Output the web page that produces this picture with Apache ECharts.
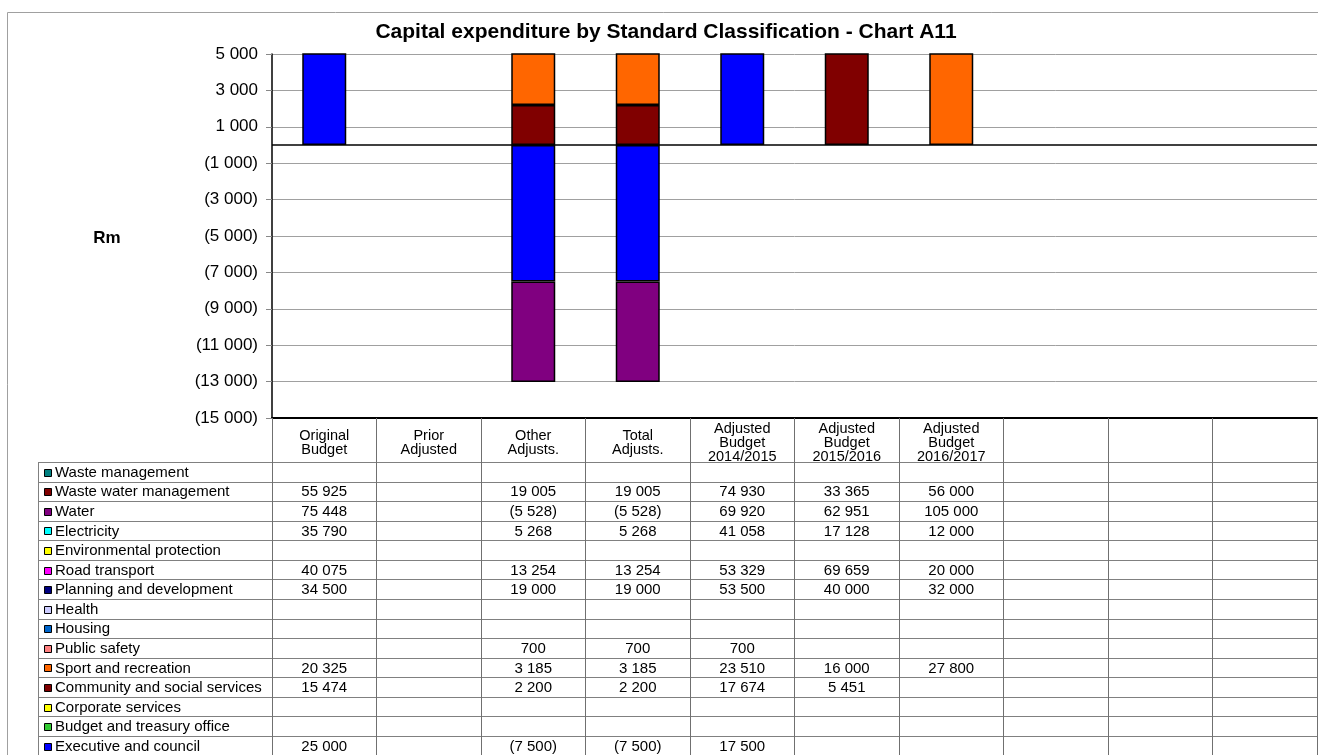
<!DOCTYPE html>
<html>
<head>
<meta charset="utf-8">
<title>Chart A11</title>
<script src="https://cdn.jsdelivr.net/npm/echarts@6/dist/echarts.min.js"></script>
<style>
  html, body { margin: 0; padding: 0; background: #fff; }
  #main { width: 1318px; height: 755px; }
</style>
</head>
<body>
<div id="main"></div>
<script>
// columns of the chart / data table (last three are empty)
var categories = ['Original\nBudget', 'Prior\nAdjusted', 'Other\nAdjusts.', 'Total\nAdjusts.',
  'Adjusted\nBudget\n2014/2015', 'Adjusted\nBudget\n2015/2016', 'Adjusted\nBudget\n2016/2017', '', '', ''];

// one array per row of the data table, R thousand (null = blank cell)
var wasteManagement   = [null, null, null, null, null, null, null];
var wasteWater        = [55925, null, 19005, 19005, 74930, 33365, 56000];
var water             = [75448, null, -5528, -5528, 69920, 62951, 105000];
var electricity       = [35790, null, 5268, 5268, 41058, 17128, 12000];
var environmental     = [null, null, null, null, null, null, null];
var roadTransport     = [40075, null, 13254, 13254, 53329, 69659, 20000];
var planning          = [34500, null, 19000, 19000, 53500, 40000, 32000];
var health            = [null, null, null, null, null, null, null];
var housing           = [null, null, null, null, null, null, null];
var publicSafety      = [null, null, 700, 700, 700, null, null];
var sport             = [20325, null, 3185, 3185, 23510, 16000, 27800];
var community         = [15474, null, 2200, 2200, 17674, 5451, null];
var corporate         = [null, null, null, null, null, null, null];
var budgetTreasury    = [null, null, null, null, null, null, null];
var executive         = [25000, null, -7500, -7500, 17500, null, null];

// table order, top to bottom
var rowNames = ['Waste management', 'Waste water management', 'Water', 'Electricity',
  'Environmental protection', 'Road transport', 'Planning and development', 'Health',
  'Housing', 'Public safety', 'Sport and recreation', 'Community and social services',
  'Corporate services', 'Budget and treasury office', 'Executive and council'];
var rowValues = [wasteManagement, wasteWater, water, electricity, environmental, roadTransport,
  planning, health, housing, publicSafety, sport, community, corporate, budgetTreasury, executive];
var rowColors = ['#008080', '#800000', '#800080', '#00FFFF', '#FFFF00', '#FF00FF', '#000080',
  '#CCCCFF', '#0066CC', '#FF8080', '#FF6600', '#800000', '#FFFF00', '#33CC33', '#0000FF'];

var FONT = "'Liberation Sans', Arial, sans-serif";

// 1 234 / (1 234)
function fmt(v) {
  var s = String(Math.abs(v)).replace(/\B(?=(\d{3})+(?!\d))/g, ' ');
  return v < 0 ? '(' + s + ')' : s;
}

var chart = echarts.init(document.getElementById('main'));

// grid geometry
var gridLeft = 272, gridTop = 54, gridBottomY = 418;
var tableTop = 462, rowH = 19.57, tableLeft = 38;

// stacked columns: the bottom row of the table is the first series of the stack
var series = [];
for (var i = rowNames.length - 1; i >= 0; i--) {
  var s = {
    name: rowNames[i],
    type: 'bar',
    stack: 'total',
    barWidth: 44,
    data: rowValues[i].concat([null, null, null]),
    itemStyle: { color: rowColors[i], borderColor: '#000', borderWidth: 1.5 },
    emphasis: { disabled: true }
  };
  series.push(s);
}
// black line at zero
series[0].markLine = {
  silent: true,
  symbol: 'none',
  label: { show: false },
  lineStyle: { color: '#000', width: 1.5, type: 'solid' },
  data: [{ yAxis: 0 }]
};

var option = {
  animation: false,
  backgroundColor: '#fff',
  title: {
    text: 'Capital expenditure by Standard Classification - Chart A11',
    left: 666,
    textAlign: 'center',
    top: 22,
    padding: 0,
    textStyle: { fontFamily: FONT, fontSize: 21, fontWeight: 'bold', color: '#000' }
  },
  grid: { left: gridLeft, right: 1, top: gridTop, bottom: 755 - gridBottomY, containLabel: false },
  xAxis: {
    type: 'category',
    data: categories,
    position: 'bottom',
    axisLine: { onZero: false, lineStyle: { color: '#000', width: 2 } },
    axisTick: { show: true, interval: 0, length: 755 - gridBottomY, lineStyle: { color: '#707070' } },
    axisLabel: {
      interval: 0, margin: 25, verticalAlign: 'middle',
      fontFamily: FONT, fontSize: 14.5, lineHeight: 14, color: '#000'
    },
    splitLine: { show: false }
  },
  yAxis: {
    type: 'value',
    min: -15000,
    max: 5000,
    interval: 2000,
    axisLine: { show: true, lineStyle: { color: '#000', width: 1.5 } },
    axisTick: { show: true, length: 6, lineStyle: { color: '#888' } },
    axisLabel: {
      margin: 14, fontFamily: FONT, fontSize: 17, color: '#000',
      formatter: function (v) { return fmt(v); }
    },
    splitLine: { lineStyle: { color: '#a0a0a0', width: 1 } }
  },
  series: series
};
chart.setOption(option);

// data table below the chart, placed on the category axis
var graphic = [];
graphic.push({
  type: 'rect', silent: true, z: -10,
  shape: { x: 7.5, y: 12.5, width: 1400, height: 800 },
  style: { fill: 'none', stroke: '#a0a0a0', lineWidth: 1 }
});
graphic.push({
  type: 'text', silent: true,
  x: 107, y: 238,
  style: { text: 'Rm', fontFamily: FONT, fontSize: 17, fontWeight: 'bold', fill: '#000',
    align: 'center', verticalAlign: 'middle' }
});
for (var r = 0; r <= rowNames.length; r++) {
  var ly = Math.round(tableTop + rowH * r) + 0.5;
  graphic.push({
    type: 'line', silent: true,
    shape: { x1: tableLeft, y1: ly, x2: 1318, y2: ly },
    style: { stroke: '#808080', lineWidth: 1 }
  });
}
graphic.push({
  type: 'line', silent: true,
  shape: { x1: tableLeft + 0.5, y1: tableTop, x2: tableLeft + 0.5, y2: 755 },
  style: { stroke: '#808080', lineWidth: 1 }
});
for (var r2 = 0; r2 < rowNames.length; r2++) {
  var cy = tableTop + rowH * (r2 + 0.5) + 1;
  graphic.push({
    type: 'rect', silent: true,
    shape: { x: 44.5, y: Math.round(cy - 4) + 0.5, width: 7, height: 7 },
    style: { fill: rowColors[r2], stroke: '#000', lineWidth: 1 }
  });
  graphic.push({
    type: 'text', silent: true,
    x: 55, y: cy,
    style: { text: rowNames[r2], fontFamily: FONT, fontSize: 15, fill: '#000', verticalAlign: 'middle' }
  });
  var vals = rowValues[r2];
  for (var c = 0; c < vals.length; c++) {
    if (vals[c] === null) continue;
    var cx = chart.convertToPixel({ xAxisIndex: 0 }, c);
    graphic.push({
      type: 'text', silent: true,
      x: cx, y: cy,
      style: { text: fmt(vals[c]), fontFamily: FONT, fontSize: 15, fill: '#000',
        align: 'center', verticalAlign: 'middle' }
    });
  }
}
chart.setOption({ graphic: graphic });
</script>
</body>
</html>
